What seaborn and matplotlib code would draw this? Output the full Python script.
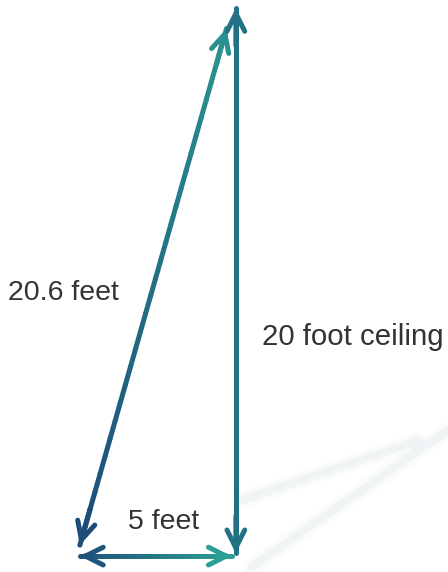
import numpy as np
import pandas as pd
import seaborn as sns
import matplotlib.pyplot as plt
from matplotlib.collections import LineCollection
from matplotlib.colors import LinearSegmentedColormap

# triangle sides (feet)
base_ft = 5
height_ft = 20
hyp_ft = 20.6
side_labels = ["20.6 feet", "5 feet", "20 foot ceiling"]

sns.set_theme(style="white")
plt.rcParams['font.family'] = ['Liberation Sans', 'DejaVu Sans']

fig = plt.figure(figsize=(4.48, 5.72), dpi=100)
ax = fig.add_axes([0, 0, 1, 1])
ax.set_xlim(-2.56, 11.8)
ax.set_ylim(-0.58, 20.29)
ax.axis('off')

cmap = LinearSegmentedColormap.from_list('tealblue', ['#1d4c78', '#2b9e95'])

def grad_arrow(x0, y0, x1, y1, c0, c1, lw=3.6):
    # shaft with colour gradient, open heads at both ends
    n = 30
    xs = np.linspace(x0, x1, n)
    ys = np.linspace(y0, y1, n)
    pts = np.array([xs, ys]).T.reshape(-1, 1, 2)
    segs = np.concatenate([pts[:-1], pts[1:]], axis=1)
    cols = [cmap(c0 + (c1 - c0) * t) for t in np.linspace(0, 1, n - 1)]
    ax.add_collection(LineCollection(segs, colors=cols, linewidth=lw, capstyle='round'))
    for (ax0, ay0, ax1_, ay1, c) in [(xs[2], ys[2], x0, y0, c0), (xs[-3], ys[-3], x1, y1, c1)]:
        ax.annotate('', xy=(ax1_, ay1), xytext=(ax0, ay0),
                    arrowprops=dict(arrowstyle='->', color=cmap(c), lw=lw,
                                    mutation_scale=32, shrinkA=0, shrinkB=0))

# faint floor shadow
for w, a in [(12, 0.15), (6, 0.3)]:
    ax.plot([5.2, 10.8], [2.05, 4.2], color='#dfe5e8', lw=w, alpha=a, solid_capstyle='round')
    ax.plot([5.5, 11.8], [-0.4, 4.6], color='#dfe5e8', lw=w, alpha=a, solid_capstyle='round')

# hypotenuse
grad_arrow(0.0, 0.4, 4.7, 19.25, 0.0, 0.85)
# base
grad_arrow(0.0, 0.0, base_ft - 0.13, 0.0, 0.1, 1.0)
# ceiling height
grad_arrow(base_ft, 0.1, base_ft, height_ft, 0.45, 0.45)

ax.text(-2.3, 9.6, side_labels[0], fontsize=20.5, color='#333333', va='center', ha='left')
ax.text(base_ft / 2 + 0.2, 1.25, side_labels[1], fontsize=20.5, color='#333333', va='center', ha='center')
ax.text(5.85, 8.0, side_labels[2], fontsize=21.2, color='#333333', va='center', ha='left')

fig.savefig('out.png', dpi=100, facecolor='white')
